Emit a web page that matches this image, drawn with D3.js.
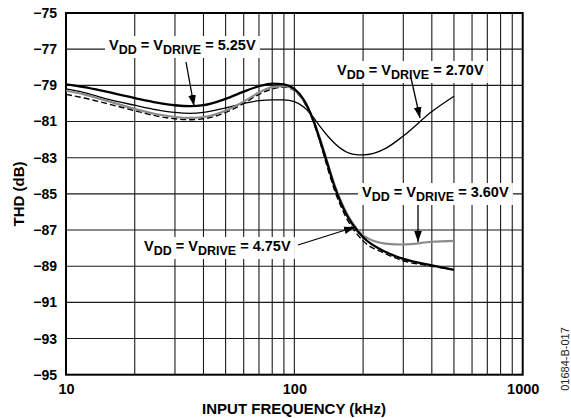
<!DOCTYPE html>
<html>
<head>
<meta charset="utf-8">
<script src="https://cdn.jsdelivr.net/npm/d3@7/dist/d3.min.js"></script>
<style>
  html, body { margin: 0; padding: 0; background: #fff; }
  svg { display: block; }
  text { font-family: "Liberation Sans", Arial, Helvetica, sans-serif; }
</style>
</head>
<body>
<svg id="chart" width="571" height="418"></svg>
<script>
// ---- data ----
const freqs = [10, 12, 15, 20, 25, 30, 35, 40, 50, 60, 70, 80, 90, 100, 110, 120, 130, 140, 150, 160, 170, 180, 200, 250, 300, 400, 500];
const thd525 = [-78.95, -79.1, -79.35, -79.7, -79.95, -80.1, -80.15, -80.1, -79.75, -79.35, -79.05, -78.9, -78.95, -79.2, -79.8, -80.8, -82.1, -83.4, -84.6, -85.5, -86.2, -86.7, -87.4, -88.2, -88.6, -88.95, -89.2];
const thd270 = [-79.2, -79.4, -79.75, -80.1, -80.35, -80.5, -80.55, -80.5, -80.25, -80.0, -79.85, -79.8, -79.8, -79.9, -80.2, -80.7, -81.3, -81.8, -82.2, -82.5, -82.7, -82.8, -82.85, -82.5, -81.8, -80.45, -79.6];
const thd360 = [-79.3, -79.5, -79.85, -80.3, -80.6, -80.75, -80.8, -80.75, -80.4, -79.9, -79.4, -79.1, -79.05, -79.25, -79.85, -80.8, -82.0, -83.3, -84.5, -85.4, -86.1, -86.6, -87.3, -87.75, -87.8, -87.65, -87.6];
const thd475 = [-79.5, -79.7, -80.0, -80.4, -80.7, -80.85, -80.9, -80.85, -80.5, -80.0, -79.5, -79.2, -79.1, -79.3, -79.9, -80.9, -82.2, -83.6, -84.8, -85.7, -86.4, -86.9, -87.6, -88.3, -88.7, -89.0, -89.2];
const xTickLabels = [10, 100, 1000];
const yTickLabels = [-75, -77, -79, -81, -83, -85, -87, -89, -91, -93, -95];
const xMinorGrid = [20, 30, 40, 50, 60, 70, 80, 90, 100, 200, 300, 400, 500, 600, 700, 800, 900];
const annotations = [
  { v: "5.25V", tx: 109, ty: 50, from: [186, 62], to: [194, 106] },
  { v: "2.70V", tx: 337, ty: 75, from: [411, 78], to: [420, 118] },
  { v: "3.60V", tx: 362, ty: 197, from: [418, 205], to: [418, 242] },
  { v: "4.75V", tx: 144, ty: 251, from: [298, 245], to: [355, 227] }
];

// ---- layout ----
const svg = d3.select("#chart");
const L = 66, R = 522.7, T = 13, B = 374.7;
const x = d3.scaleLog().domain([10, 1000]).range([L, R]);
const y = d3.scaleLinear().domain([-95, -75]).range([B, T]);

const grid = svg.append("g");
grid.selectAll("line.v").data(xMinorGrid).enter().append("line")
  .attr("x1", d => x(d)).attr("x2", d => x(d))
  .attr("y1", T).attr("y2", B)
  .attr("stroke", "#1a1a1a").attr("stroke-width", 1.1);
grid.selectAll("line.h").data(yTickLabels.slice(1, -1)).enter().append("line")
  .attr("x1", L).attr("x2", R)
  .attr("y1", d => y(d)).attr("y2", d => y(d))
  .attr("stroke", "#1a1a1a").attr("stroke-width", 1.1);

// axes via d3
const yAxis = d3.axisLeft(y).tickValues(yTickLabels).tickSize(0).tickPadding(9)
  .tickFormat(d => "\u2212" + Math.abs(d));
const gy = svg.append("g").attr("transform", `translate(${L},0)`).call(yAxis);
gy.select(".domain").remove();
gy.selectAll("text").attr("font-size", 14).attr("font-weight", "bold").attr("fill", "#000")
  .style("font-family", "Liberation Sans, Arial, sans-serif");

const xAxis = d3.axisBottom(x).tickValues(xTickLabels).tickSize(0).tickPadding(9)
  .tickFormat(d3.format("d"));
const gx = svg.append("g").attr("transform", `translate(0,${B})`).call(xAxis);
gx.select(".domain").remove();
gx.selectAll("text").attr("font-size", 14.5).attr("font-weight", "bold").attr("fill", "#000")
  .style("font-family", "Liberation Sans, Arial, sans-serif");

// annotation labels with white boxes
const labG = svg.append("g");
annotations.forEach(a => {
  const t = labG.append("text").attr("x", a.tx).attr("y", a.ty)
    .attr("font-size", 14.5).attr("font-weight", "bold").attr("fill", "#000");
  t.append("tspan").text("V");
  t.append("tspan").attr("font-size", 12.5).attr("dy", 4).text("DD");
  t.append("tspan").attr("dy", -4).text(" = V");
  t.append("tspan").attr("font-size", 12.5).attr("dy", 4).text("DRIVE");
  t.append("tspan").attr("dy", -4).text(" = " + a.v);
  const bb = t.node().getBBox();
  labG.insert("rect", "text").attr("x", bb.x - 4).attr("y", bb.y - 1)
    .attr("width", bb.width + 8).attr("height", bb.height + 2).attr("fill", "#fff");
});
labG.selectAll("rect").lower();

// plot border
svg.append("rect").attr("x", L).attr("y", T).attr("width", R - L).attr("height", B - T)
  .attr("fill", "none").attr("stroke", "#000").attr("stroke-width", 2);

// curves
const line = d3.line().x(d => x(d[0])).y(d => y(d[1])).curve(d3.curveMonotoneX);
const series = [
  { vals: thd270, color: "#000", w: 1.3, dash: null },
  { vals: thd475, color: "#000", w: 1.4, dash: "6,3" },
  { vals: thd360, color: "#8a8a8a", w: 2.2, dash: null },
  { vals: thd525, color: "#000", w: 2.3, dash: null }
];
series.forEach(s => {
  svg.append("path").datum(freqs.map((f, i) => [f, s.vals[i]]))
    .attr("d", line).attr("fill", "none").attr("stroke", s.color)
    .attr("stroke-width", s.w).attr("stroke-dasharray", s.dash);
});

// arrows
svg.append("defs").append("marker").attr("id", "ah")
  .attr("viewBox", "0 0 10 10").attr("refX", 10).attr("refY", 5)
  .attr("markerWidth", 11).attr("markerHeight", 11).attr("markerUnits", "userSpaceOnUse")
  .attr("orient", "auto")
  .append("path").attr("d", "M0,1.5 L10,5 L0,8.5 Z").attr("fill", "#000");
annotations.forEach(a => {
  svg.append("line").attr("x1", a.from[0]).attr("y1", a.from[1])
    .attr("x2", a.to[0]).attr("y2", a.to[1])
    .attr("stroke", "#000").attr("stroke-width", 1.3).attr("marker-end", "url(#ah)");
});

// axis titles
svg.append("text").attr("x", 294).attr("y", 414).attr("text-anchor", "middle")
  .attr("font-size", 15).attr("font-weight", "bold").text("INPUT FREQUENCY (kHz)");
svg.append("text").attr("transform", "translate(24,194) rotate(-90)").attr("text-anchor", "middle")
  .attr("font-size", 15).attr("font-weight", "bold").text("THD (dB)");
svg.append("text").attr("transform", "translate(569,359) rotate(-90)").attr("text-anchor", "middle")
  .attr("font-size", 11).attr("fill", "#222").text("01684-B-017");
</script>
</body>
</html>
